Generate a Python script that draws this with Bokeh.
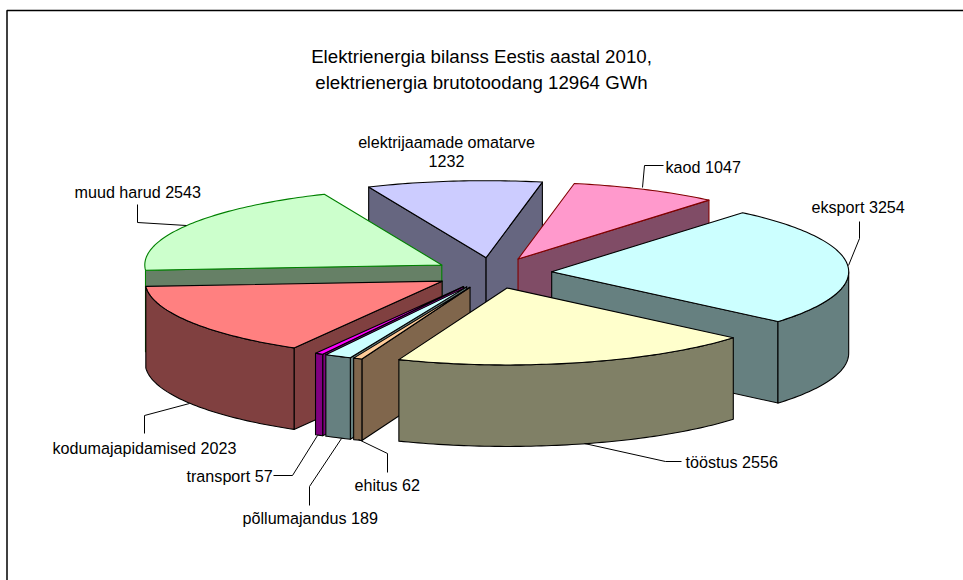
from math import sin, cos, radians

from bokeh.core.properties import value
from bokeh.embed import file_html
from bokeh.plotting import figure
from bokeh.resources import INLINE

# Electricity balance, GWh, clockwise from the first slice
categories = ["eksport", "tööstus", "ehitus", "põllumajandus", "transport",
              "kodumajapidamised", "muud harud", "elektrijaamade omatarve", "kaod"]
gwh = [3254, 2556, 62, 189, 57, 2023, 2543, 1232, 1047]
top_colors = ["#CCFFFF", "#FFFFCC", "#FFCC99", "#CCFFFF", "#FF00FF",
              "#FF8080", "#CCFFCC", "#CCCCFF", "#FF99CC"]
side_colors = ["#668080", "#808066", "#80664C", "#668080", "#800080",
               "#804040", "#668066", "#666680", "#804C66"]
edge_colors = ["#000000", "#000000", "#000000", "#000000", "#000000",
               "#000000", "#008000", "#000000", "#800000"]
title_lines = ["Elektrienergia bilanss Eestis aastal 2010,",
               "elektrienergia brutotoodang 12964 GWh"]

# Pie projection, in page pixels
CX, CY = 492.0, 272.5
RX, RY = 297.0, 77.0
DEPTH = 81.5
EXPLODE = 0.2
FIRST_ANGLE = 40.0

# Painter's order, back to front
DRAW_ORDER = [7, 8, 0, 6, 5, 4, 3, 2, 1]

# Label anchor (x, y) and leader polyline for every slice
LABELS = {
    0: (811, 206, [(859, 221), (859, 238), (848, 265)]),
    1: (685, 461, [(681, 461), (665, 461), (584, 443)]),
    2: (354, 484.5, [(387, 472), (387, 453), (358, 439)]),
    3: (242, 517.5, [(309, 505), (309, 486), (341, 438)]),
    4: (186, 475.5, [(273, 475), (292, 475), (317, 435)]),
    5: (52, 447, [(144, 433), (144, 415), (189, 403)]),
    6: (74, 191, [(137, 204), (137, 222), (186, 225)]),
    8: (665, 166, [(663, 165), (644, 165), (642, 187)]),
}
FONT_LABEL = "16.15px"
FONT_TITLE = "18.7px"

p = figure(width=963, height=580, x_range=(0, 963), y_range=(580, 0),
           output_backend="svg", toolbar_location=None, min_border=0,
           outline_line_color=None, background_fill_color="white")
p.axis.visible = False
p.grid.visible = False


def rim(cx, cy, angle):
    a = radians(angle)
    return cx + RX * sin(a), cy - RY * cos(a)


def arc_angles(a1, a2, step=1.0):
    out = [a1]
    a = a1 + step
    while a < a2:
        out.append(a)
        a += step
    out.append(a2)
    return out


def face(points, color, edge):
    p.patch([q[0] for q in points], [q[1] for q in points], fill_color=color,
            line_color=edge, line_width=1.1, line_join="round")


total = sum(gwh)
spans = []
start = FIRST_ANGLE
for v in gwh:
    sweep = 360.0 * v / total
    spans.append((start, start + sweep))
    start += sweep

for i in DRAW_ORDER:
    a1, a2 = spans[i]
    mid = radians((a1 + a2) / 2)
    cx = CX + EXPLODE * RX * sin(mid)
    cy = CY - EXPLODE * RY * cos(mid)
    apex = (cx, cy)
    apex_low = (cx, cy + DEPTH)
    top_arc = [rim(cx, cy, a) for a in arc_angles(a1, a2)]

    # Radial walls that turn toward the viewer
    if sin(radians(a1)) < 0:
        q = rim(cx, cy, a1)
        face([apex, q, (q[0], q[1] + DEPTH), apex_low], side_colors[i], edge_colors[i])
    if sin(radians(a2)) > 0:
        q = rim(cx, cy, a2)
        face([apex, q, (q[0], q[1] + DEPTH), apex_low], side_colors[i], edge_colors[i])

    # Outer wall: the part of the rim on the near half of the ellipse.
    # A few degrees ending at the left silhouette sit behind the next slice's wall.
    lo, hi = max(a1, 90.0), min(a2, 270.0)
    if lo < hi and not (hi == 270.0 and hi - lo < 5.0):
        upper = [rim(cx, cy, a) for a in arc_angles(lo, hi)]
        lower = [(x, y + DEPTH) for x, y in reversed(upper)]
        face(upper + lower, side_colors[i], edge_colors[i])

    face([apex] + top_arc, top_colors[i], edge_colors[i])

# Leader lines
for i, entry in LABELS.items():
    pts = entry[2]
    p.line([q[0] for q in pts], [q[1] for q in pts], line_color="#000000", line_width=1)

# Data labels
font = value("Liberation Sans")
for i, (x, y, _) in LABELS.items():
    p.text([x], [y], text=[f"{categories[i]} {gwh[i]}"], text_font=font,
           text_font_size=FONT_LABEL, text_color="#000000",
           text_align="left", text_baseline="alphabetic")
p.text([446], [141], text=[categories[7]], text_font=font, text_font_size=FONT_LABEL,
       text_color="#000000", text_align="center", text_baseline="alphabetic")
p.text([446], [160], text=[str(gwh[7])], text_font=font, text_font_size=FONT_LABEL,
       text_color="#000000", text_align="center", text_baseline="alphabetic")

# Title
for line, y in zip(title_lines, (55.5, 81.5)):
    p.text([481], [y], text=[line], text_font=font, text_font_size=FONT_TITLE,
           text_color="#000000", text_align="center", text_baseline="alphabetic")

# Chart frame: only its top and left edges fall inside the page
p.line([6.5, 6.5, 963], [580, 10, 10], line_color="#000000", line_width=1.5)

open("out.html", "w").write(file_html(p, INLINE))
